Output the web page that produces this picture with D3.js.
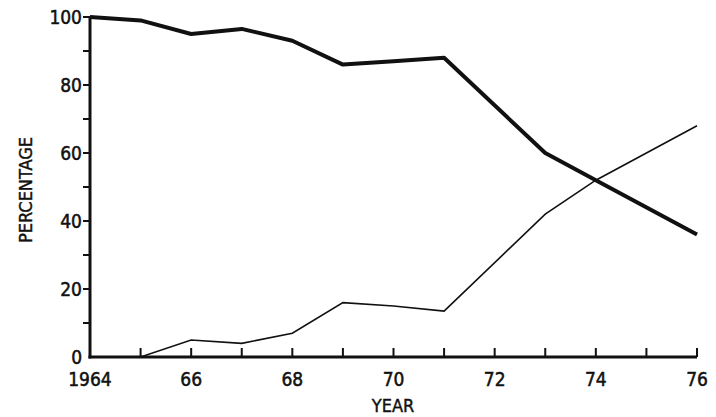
<!DOCTYPE html>
<html>
<head>
<meta charset="utf-8">
<script src="https://cdn.jsdelivr.net/npm/d3@7"></script>
<style>
body { margin: 0; background: #fff; }
text { font-family: "DejaVu Sans Condensed", "DejaVu Sans", sans-serif; fill: #111; }
</style>
</head>
<body>
<div id="chart"></div>
<script>
var years = [1964, 1965, 1966, 1967, 1968, 1969, 1970, 1971, 1973, 1974, 1976];
var thickValues = [100, 99, 95, 96.5, 93, 86, 87, 88, 60, 52, 36];
var thinValues = [0, 0, 5, 4, 7, 16, 15, 13.5, 42, 52, 68];
var xTickLabels = ['1964', '66', '68', '70', '72', '74', '76'];
var yTickLabels = [0, 20, 40, 60, 80, 100];

window.onload = function(){
	var svg = d3.select('#chart').append('svg').attr('width', 716).attr('height', 417);

	var x = d3.scaleLinear().domain([1964, 1976]).range([90, 697]);
	var y = d3.scaleLinear().domain([0, 100]).range([357, 17]);

	// axes and ticks as filled rects
	svg.append('rect').attr('x', x(1964) - 1.5).attr('y', y(100)).attr('width', 3).attr('height', y(0) - y(100) + 1.5).attr('fill', '#111');
	svg.append('rect').attr('x', x(1964) - 1.5).attr('y', y(0) - 1.5).attr('width', x(1976) - x(1964) + 1.5).attr('height', 3).attr('fill', '#111');
	svg.selectAll('.xt').data(d3.range(1965, 1977)).enter().append('rect')
		.attr('x', function(d){ return x(d) - 1; }).attr('y', y(0) - 9)
		.attr('width', 2).attr('height', 9).attr('fill', '#111');
	svg.selectAll('.yt').data(d3.range(10, 101, 10)).enter().append('rect')
		.attr('x', x(1964) - 7).attr('y', function(d){ return y(d) - 1; })
		.attr('width', 7).attr('height', 2).attr('fill', '#111');

	svg.selectAll('.xl').data(xTickLabels).enter().append('text')
		.attr('x', function(d, i){ return x(1964 + 2 * i); })
		.attr('y', 386).attr('text-anchor', 'middle').attr('font-size', 19)
		.attr('stroke', '#111').attr('stroke-width', 0.5)
		.text(function(d){ return d; });

	svg.selectAll('.yl').data(yTickLabels).enter().append('text')
		.attr('x', x(1964) - 8).attr('y', function(d){ return y(d) + 7; })
		.attr('text-anchor', 'end').attr('font-size', 19)
		.attr('stroke', '#111').attr('stroke-width', 0.5)
		.text(function(d){ return d; });

	svg.append('text').attr('x', 393).attr('y', 412).attr('text-anchor', 'middle')
		.attr('font-size', 18).attr('stroke', '#111').attr('stroke-width', 0.4).text('YEAR');
	svg.append('text').attr('transform', 'translate(32,190) rotate(-90)')
		.attr('text-anchor', 'middle').attr('font-size', 18)
		.attr('stroke', '#111').attr('stroke-width', 0.4).text('PERCENTAGE');

	var line = function(vals){
		return d3.line().x(function(d, i){ return x(years[i]); }).y(function(d){ return y(d); })(vals);
	};
	svg.append('path').attr('d', line(thickValues)).attr('fill', 'none')
		.attr('stroke', '#111').attr('stroke-width', 4).attr('stroke-linejoin', 'round');
	svg.append('path').attr('d', line(thinValues)).attr('fill', 'none')
		.attr('stroke', '#111').attr('stroke-width', 1.6);
}
</script>
</body>
</html>
